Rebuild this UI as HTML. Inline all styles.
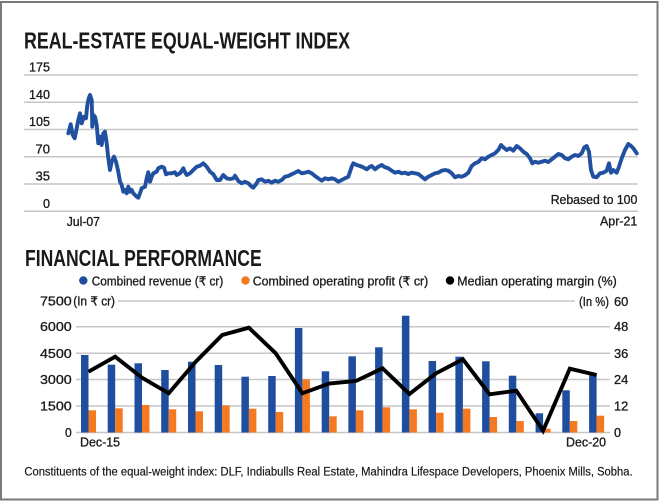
<!DOCTYPE html>
<html>
<head>
<meta charset="utf-8">
<style>
  html,body{margin:0;padding:0;background:#fff;}
  svg{display:block;}
  text{font-family:"Liberation Sans Narrow","Liberation Sans","DejaVu Sans",sans-serif;fill:#1a1a1a;}
  .t{stroke:#1a1a1a;stroke-width:0.3;}
</style>
</head>
<body>
<svg width="660" height="501" viewBox="0 0 660 501" xmlns="http://www.w3.org/2000/svg">
  <rect x="0" y="0" width="660" height="501" fill="#fff"/>
  <rect x="1" y="2" width="656.5" height="497.5" fill="none" stroke="#7a7a7a" stroke-width="2"/>

  <!-- ===== TOP CHART ===== -->
  <text x="24" y="48.3" font-size="23" font-weight="bold" textLength="326" lengthAdjust="spacingAndGlyphs">REAL-ESTATE EQUAL-WEIGHT INDEX</text>

  <g stroke="#c6c6c6" stroke-width="1.5">
    <line x1="24" y1="75" x2="638" y2="75"/>
    <line x1="24" y1="102.3" x2="638" y2="102.3"/>
    <line x1="24" y1="129.5" x2="638" y2="129.5"/>
    <line x1="24" y1="156.7" x2="638" y2="156.7"/>
    <line x1="24" y1="184" x2="638" y2="184"/>
    <line x1="24" y1="211.2" x2="638" y2="211.2"/>
  </g>

  <g font-size="12.5" text-anchor="end" class="t">
    <text x="50" y="71.7" textLength="21" lengthAdjust="spacingAndGlyphs">175</text>
    <text x="50" y="99" textLength="21" lengthAdjust="spacingAndGlyphs">140</text>
    <text x="50" y="126.2" textLength="21" lengthAdjust="spacingAndGlyphs">105</text>
    <text x="50" y="153.4" textLength="14.5" lengthAdjust="spacingAndGlyphs">70</text>
    <text x="50" y="180.7" textLength="14.5" lengthAdjust="spacingAndGlyphs">35</text>
    <text x="50" y="207.9" textLength="7" lengthAdjust="spacingAndGlyphs">0</text>
  </g>

  <g font-size="12.5" class="t">
    <text x="66.7" y="226" textLength="33.3" lengthAdjust="spacingAndGlyphs">Jul-07</text>
    <text x="600" y="225.7" textLength="37.3" lengthAdjust="spacingAndGlyphs">Apr-21</text>
    <text x="550.7" y="204" textLength="86.6" lengthAdjust="spacingAndGlyphs">Rebased to 100</text>
  </g>

  <polyline fill="none" stroke="#2150a0" stroke-width="3.9" stroke-linejoin="round" stroke-linecap="round" points="
    68.3,133.3 70.7,124.3 72.7,135 74.7,138.3 76.7,128.3 78.3,120 80,113.3 81.7,123.3 84,116.7 86,118.3
    87.3,105 88.7,98.3 90,95 91.7,100 92.3,126.7 93.3,115 95,116.7 96.7,125 98.3,143.3 100,136.7
    101.7,145 103.3,133.3 105,131.7 106.7,143.3 108.3,158.3 110,170 111.7,161.7 114,156.7 116,161.7
    118.3,171.7 120,181.7 121.7,185 123.3,191.7 125,190 126.7,193.3 128.3,186.7 130,191.7 131.7,190
    133.3,193.3 136.7,196.7 138.3,197.7 140,193.3 141.7,188.3 145,186.7 146.7,178.3 148.3,172.3
    150,181.7 151.7,176.7 153.3,173.3 156.7,171.7 158.3,168.3 161.7,166.7 164,167.7 166,174.3
    168.3,173.3 171.7,173.3 175,172.3 176.7,175 180,173.3 183.3,168.3 185,172.3 186.7,175 190,173.3
    193.3,170 196.7,166.7 200,165.7 203.3,163.3 206.7,166.7 210,171.7 213.3,174.3 216.7,180 220,180
    223.3,175 226.7,178.3 230,179 233.3,178.3 235,175.7 238.3,181 241.7,183.3 245,181.7 248.3,183.3
    251.7,186.7 253.3,187.7 256.7,183.3
    258.3,180 261.7,179.3 265,181.7 268.3,180.7 271.7,182.7 275,180.7 278.3,181.7 281.7,180 285,176.7
    288.3,176 291.7,174.3 295,172.7 298.3,171 301.7,173.3 305,172.7 308.3,171.7 311.7,173.3 315,176
    318.3,178.3 321.7,180.7 325,178.3 328.3,179.3 331.7,178.3 335,179.3 338.3,181.7 341.7,180 345,178.3
    348.3,176.7 351.7,166.7 353.3,163.3 356.7,165 360,166 363.3,167.3 366.7,169.3 370,166.7 371.7,166
    375,169.3 378.3,166.7 381.7,165 385,167.3 388.3,168.3 391.7,170.7 395,172.7 398.3,171.7 401.7,173.3
    405,172.7 408.3,174 411.7,172.7 415,173.3 418.3,174 421.7,176.7 425,179.3 428.3,176.7 431.7,175
    435,173.3 438.3,172.7 441.7,170.7
    445,170 448.3,170.7 451.7,173.3 455,177.3 458.3,176 461.7,176.7 465,175.3 468.3,172.7 471.7,166
    475,163.3 478.3,162 481.7,158.3 485,159.3 488.3,156.7 491.7,155 495,153.3 498.3,150 501,145
    503.3,147.3 506.7,150 510,148.3 513.3,150.7 516.7,146 520,148.3 523.3,151.7 526.7,154 530,158.3
    532.3,163.3 535,161.7 538.3,162.7 541.7,161.7 545,160.7 548.3,162 551.7,159.3 555,156.7 558.3,154
    561.7,155 565,158.3 568.3,159.3 571.7,156.7 575,155 578.3,156 581.7,153.3 584.3,147.3 586.7,146
    589,151.7 591,170 593.3,176.7 596.7,177.3 600,173.3 603.3,172.7 606.7,170.7 609,163.3 611,172.7
    613.3,170 616.7,172.7 619,166.7 621.7,158.3 625,150 628.3,144 631,146 633.3,148.3 635.7,151.7 636.7,153.3"/>

  <!-- ===== BOTTOM CHART ===== -->
  <text x="25" y="266" font-size="23" font-weight="bold" textLength="236.7" lengthAdjust="spacingAndGlyphs">FINANCIAL PERFORMANCE</text>

  <!-- legend -->
  <circle cx="83.3" cy="280.5" r="4.2" fill="#1f4e9f"/>
  <circle cx="245.5" cy="280.5" r="4.2" fill="#f47920"/>
  <circle cx="450" cy="280.5" r="4.2" fill="#000"/>
  <g font-size="12.5" class="t">
    <text x="91.7" y="285.3" textLength="131.6" lengthAdjust="spacingAndGlyphs">Combined revenue (₹ cr)</text>
    <text x="252.7" y="285.3" textLength="175.6" lengthAdjust="spacingAndGlyphs">Combined operating profit (₹ cr)</text>
    <text x="457.3" y="285.3" textLength="159.4" lengthAdjust="spacingAndGlyphs">Median operating margin (%)</text>
  </g>

  <!-- grid -->
  <g stroke="#c6c6c6" stroke-width="1.5">
    <line x1="118" y1="301" x2="575" y2="301"/>
    <line x1="76" y1="326.7" x2="610" y2="326.7"/>
    <line x1="76" y1="353.3" x2="610" y2="353.3"/>
    <line x1="76" y1="379.5" x2="610" y2="379.5"/>
    <line x1="76" y1="406" x2="610" y2="406"/>
    <line x1="76" y1="432.5" x2="610" y2="432.5"/>
  </g>

  <!-- left axis labels -->
  <g font-size="12.5" class="t">
    <text x="40" y="305.5" textLength="31.7" lengthAdjust="spacingAndGlyphs">7500</text>
    <text x="73.3" y="305.5" textLength="41.7" lengthAdjust="spacingAndGlyphs">(In ₹ cr)</text>
  </g>
  <g font-size="12.5" text-anchor="end" class="t">
    <text x="71.7" y="331.2" textLength="31.7" lengthAdjust="spacingAndGlyphs">6000</text>
    <text x="71.7" y="357.8" textLength="31.7" lengthAdjust="spacingAndGlyphs">4500</text>
    <text x="71.7" y="384" textLength="31.7" lengthAdjust="spacingAndGlyphs">3000</text>
    <text x="71.7" y="410.5" textLength="31.7" lengthAdjust="spacingAndGlyphs">1500</text>
    <text x="71.7" y="437" textLength="6.7" lengthAdjust="spacingAndGlyphs">0</text>
  </g>

  <!-- right axis labels -->
  <g font-size="12.5" class="t">
    <text x="579" y="306" textLength="30" lengthAdjust="spacingAndGlyphs">(In %)</text>
    <text x="614" y="306" textLength="14.3" lengthAdjust="spacingAndGlyphs">60</text>
    <text x="614" y="331.2" textLength="14.3" lengthAdjust="spacingAndGlyphs">48</text>
    <text x="614" y="357.8" textLength="14.3" lengthAdjust="spacingAndGlyphs">36</text>
    <text x="614" y="384" textLength="14.3" lengthAdjust="spacingAndGlyphs">24</text>
    <text x="614" y="410.5" textLength="14.3" lengthAdjust="spacingAndGlyphs">12</text>
    <text x="614" y="437" textLength="7" lengthAdjust="spacingAndGlyphs">0</text>
  </g>

  <!-- blue bars -->
  <g fill="#1f4e9f">
    <rect x="81" y="355" width="7.5" height="77.5"/>
    <rect x="107.7" y="364.7" width="7.5" height="67.8"/>
    <rect x="134.5" y="363.3" width="7.5" height="69.2"/>
    <rect x="161.2" y="370" width="7.5" height="62.5"/>
    <rect x="188" y="361.7" width="7.5" height="70.8"/>
    <rect x="214.7" y="365" width="7.5" height="67.5"/>
    <rect x="241.4" y="376.7" width="7.5" height="55.8"/>
    <rect x="268.2" y="376" width="7.5" height="56.5"/>
    <rect x="294.9" y="328" width="7.5" height="104.5"/>
    <rect x="321.7" y="371.3" width="7.5" height="61.2"/>
    <rect x="348.4" y="356.3" width="7.5" height="76.2"/>
    <rect x="375.1" y="347.3" width="7.5" height="85.2"/>
    <rect x="401.9" y="315.7" width="7.5" height="116.8"/>
    <rect x="428.6" y="361" width="7.5" height="71.5"/>
    <rect x="455.4" y="356.7" width="7.5" height="75.8"/>
    <rect x="482.1" y="361.3" width="7.5" height="71.2"/>
    <rect x="508.8" y="375.7" width="7.5" height="56.8"/>
    <rect x="535.6" y="413.3" width="7.5" height="19.2"/>
    <rect x="562.3" y="390.3" width="7.5" height="42.2"/>
    <rect x="589.1" y="375" width="7.5" height="57.5"/>
  </g>
  <!-- orange bars -->
  <g fill="#f47920">
    <rect x="88.5" y="410.3" width="7.5" height="22.2"/>
    <rect x="115.2" y="408.3" width="7.5" height="24.2"/>
    <rect x="142" y="405" width="7.5" height="27.5"/>
    <rect x="168.7" y="409.3" width="7.5" height="23.2"/>
    <rect x="195.5" y="411.3" width="7.5" height="21.2"/>
    <rect x="222.2" y="405.3" width="7.5" height="27.2"/>
    <rect x="248.9" y="408.7" width="7.5" height="23.8"/>
    <rect x="275.7" y="412" width="7.5" height="20.5"/>
    <rect x="302.4" y="379.3" width="7.5" height="53.2"/>
    <rect x="329.2" y="416.3" width="7.5" height="16.2"/>
    <rect x="355.9" y="410.3" width="7.5" height="22.2"/>
    <rect x="382.6" y="407.3" width="7.5" height="25.2"/>
    <rect x="409.4" y="409.3" width="7.5" height="23.2"/>
    <rect x="436.1" y="412.7" width="7.5" height="19.8"/>
    <rect x="462.9" y="408.7" width="7.5" height="23.8"/>
    <rect x="489.6" y="417" width="7.5" height="15.5"/>
    <rect x="516.3" y="421" width="7.5" height="11.5"/>
    <rect x="543.1" y="428.7" width="7.5" height="3.8"/>
    <rect x="569.8" y="421" width="7.5" height="11.5"/>
    <rect x="596.6" y="415.7" width="7.5" height="16.8"/>
  </g>

  <!-- margin line -->
  <polyline fill="none" stroke="#000" stroke-width="3.9" stroke-linejoin="miter" stroke-miterlimit="3" points="
    88.5,371.7 115.2,356.7 142,377.7 168.7,393.3 195.5,362 222.2,335 248.9,327.7 275.7,353.3
    302.4,393.3 329.2,383.5 355.9,381 382.6,368.3 409.4,394 436.1,373.3 462.9,359.3 489.6,394.3
    516.3,390.7 543.1,430.7 569.8,368.7 596.6,375"/>

  <g font-size="12.5" class="t">
    <text x="80" y="446.5" textLength="40" lengthAdjust="spacingAndGlyphs">Dec-15</text>
    <text x="566" y="446.5" textLength="40" lengthAdjust="spacingAndGlyphs">Dec-20</text>
  </g>

  <text x="24.4" y="475.5" font-size="12.2" class="t" style="stroke-width:0.2" textLength="608.2" lengthAdjust="spacingAndGlyphs">Constituents of the equal-weight index: DLF, Indiabulls Real Estate, Mahindra Lifespace Developers, Phoenix Mills, Sobha.</text>
</svg>
</body>
</html>
